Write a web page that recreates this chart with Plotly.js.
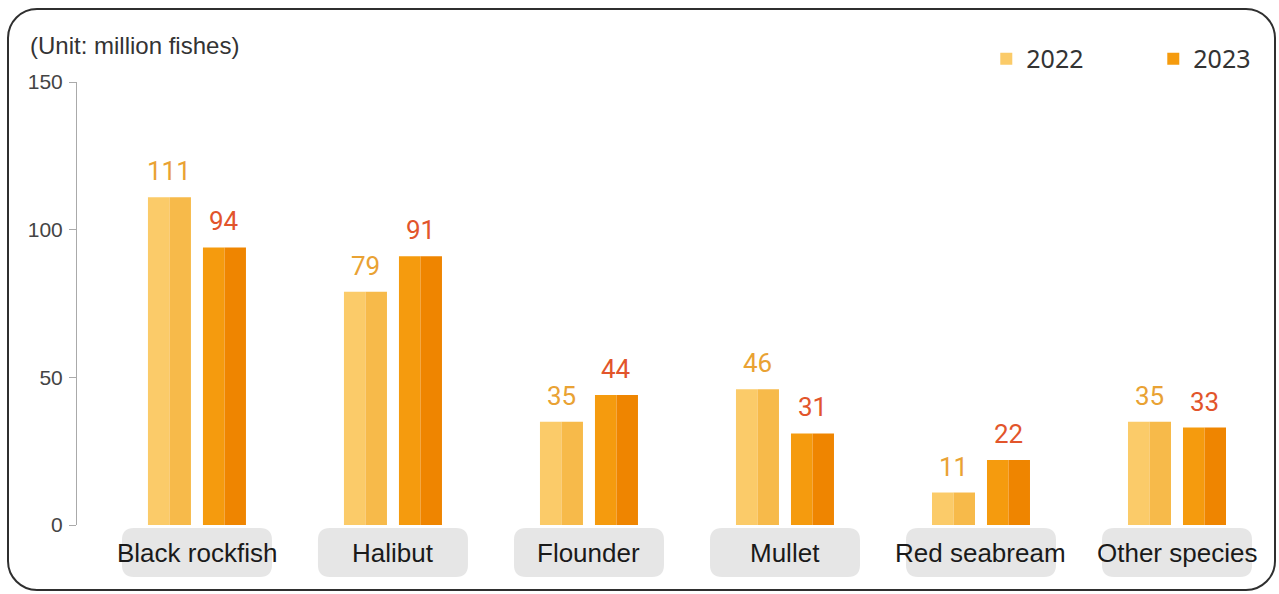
<!DOCTYPE html>
<html><head><meta charset="utf-8">
<script src="https://cdn.plot.ly/plotly-3.0.1.min.js"></script>
<style>
html,body{margin:0;padding:0;background:#fff;}
#wrap{position:relative;width:1279px;height:594px;}
#chart{width:1279px;height:594px;}
#frame{position:absolute;left:7px;top:8px;width:1265px;height:579px;border:2px solid #2f2f2f;border-radius:30px;pointer-events:none;}
</style></head><body>
<div id="wrap"><div id="chart"></div><div id="frame"></div></div>
<script>
const categories = ['Black rockfish', 'Halibut', 'Flounder', 'Mullet', 'Red seabream', 'Other species'];
const years = ['2022', '2023'];
const values2022 = [111, 79, 35, 46, 11, 35];
const values2023 = [94, 91, 44, 31, 22, 33];
const yTickValues = [0, 50, 100, 150];
const unitLabel = '(Unit: million fishes)';

const xIdx = categories.map((_, i) => i);
const half = 0.1097;
const colors = {
  '2022': ['#FBCB69', '#F7BA4A'],
  '2023': ['#F59B0E', '#EF8500']
};
const labelColors = {'2022': '#E9A233', '2023': '#E2552B'};
const series = {'2022': values2022, '2023': values2023};
const startOffset = {'2022': -0.25, '2023': 0.0306};

const traces = [];
years.forEach(yr => {
  [0, 1].forEach(k => {
    traces.push({
      type: 'bar',
      name: yr,
      x: xIdx,
      y: series[yr],
      offset: startOffset[yr] + k * half,
      width: half,
      marker: {color: colors[yr][k], line: {width: 0}},
      showlegend: k === 0,
      legendgroup: yr,
      hoverinfo: 'skip'
    });
  });
});

const annotations = [];
years.forEach(yr => {
  series[yr].forEach((v, i) => {
    annotations.push({
      x: i + startOffset[yr] + half, y: v, xref: 'x', yref: 'y',
      text: String(v), showarrow: false, yanchor: 'middle', yshift: 26,
      font: {family: 'Roboto, DejaVu Sans', size: 26, color: labelColors[yr]}
    });
  });
});
const shapes = [];
const boxPath = 'M -75,-15 Q -75,-3 -63,-3 L 63,-3 Q 75,-3 75,-15 L 75,-40 Q 75,-52 63,-52 L -63,-52 Q -75,-52 -75,-40 Z';
categories.forEach((c, i) => {
  shapes.push({
    type: 'path', xref: 'x', yref: 'paper', xsizemode: 'pixel', ysizemode: 'pixel',
    xanchor: i, yanchor: 0, path: boxPath,
    fillcolor: '#E6E6E6', line: {width: 0}, layer: 'below'
  });
  annotations.push({
    x: i, y: 0, xref: 'x', yref: 'paper', text: c, showarrow: false,
    yanchor: 'middle', yshift: -28,
    font: {family: 'Liberation Sans, Arial', size: 26, color: '#1a1a1a'}
  });
});

const layout = {
  width: 1279, height: 594,
  margin: {l: 77, r: 4, t: 82, b: 69, pad: 0, autoexpand: false},
  paper_bgcolor: 'rgba(0,0,0,0)', plot_bgcolor: 'rgba(0,0,0,0)',
  barmode: 'overlay',
  title: {
    text: unitLabel, x: 30 / 1279, xanchor: 'left', xref: 'container',
    y: 1 - 46 / 594, yanchor: 'middle', yref: 'container',
    font: {family: 'Liberation Sans, Arial', size: 24, color: '#333'}
  },
  xaxis: {
    type: 'linear', range: [-0.612, 5.5], showticklabels: false,
    showgrid: false, zeroline: false, showline: false, ticks: '', fixedrange: true
  },
  yaxis: {
    range: [0, 150], tickvals: yTickValues, ticktext: yTickValues.map(String),
    showgrid: false, zeroline: false, showline: true, linecolor: '#aaaaaa', linewidth: 1,
    ticks: 'outside', ticklen: 7, tickcolor: '#aaaaaa', tickwidth: 1,
    tickfont: {family: 'Liberation Sans, Arial', size: 21, color: '#444'},
    ticklabelstandoff: 2, fixedrange: true
  },
  legend: {
    orientation: 'h', x: 0.759, xanchor: 'left', y: 1.052, yanchor: 'middle',
    font: {family: 'Noto Sans, Open Sans', size: 25, color: '#333'},
    entrywidth: 122, entrywidthmode: 'pixels', bgcolor: 'rgba(0,0,0,0)', traceorder: 'normal'
  },
  shapes: shapes,
  annotations: annotations,
  showlegend: true
};

Plotly.newPlot('chart', traces, layout, {displayModeBar: false, staticPlot: true});
</script>
</body></html>
